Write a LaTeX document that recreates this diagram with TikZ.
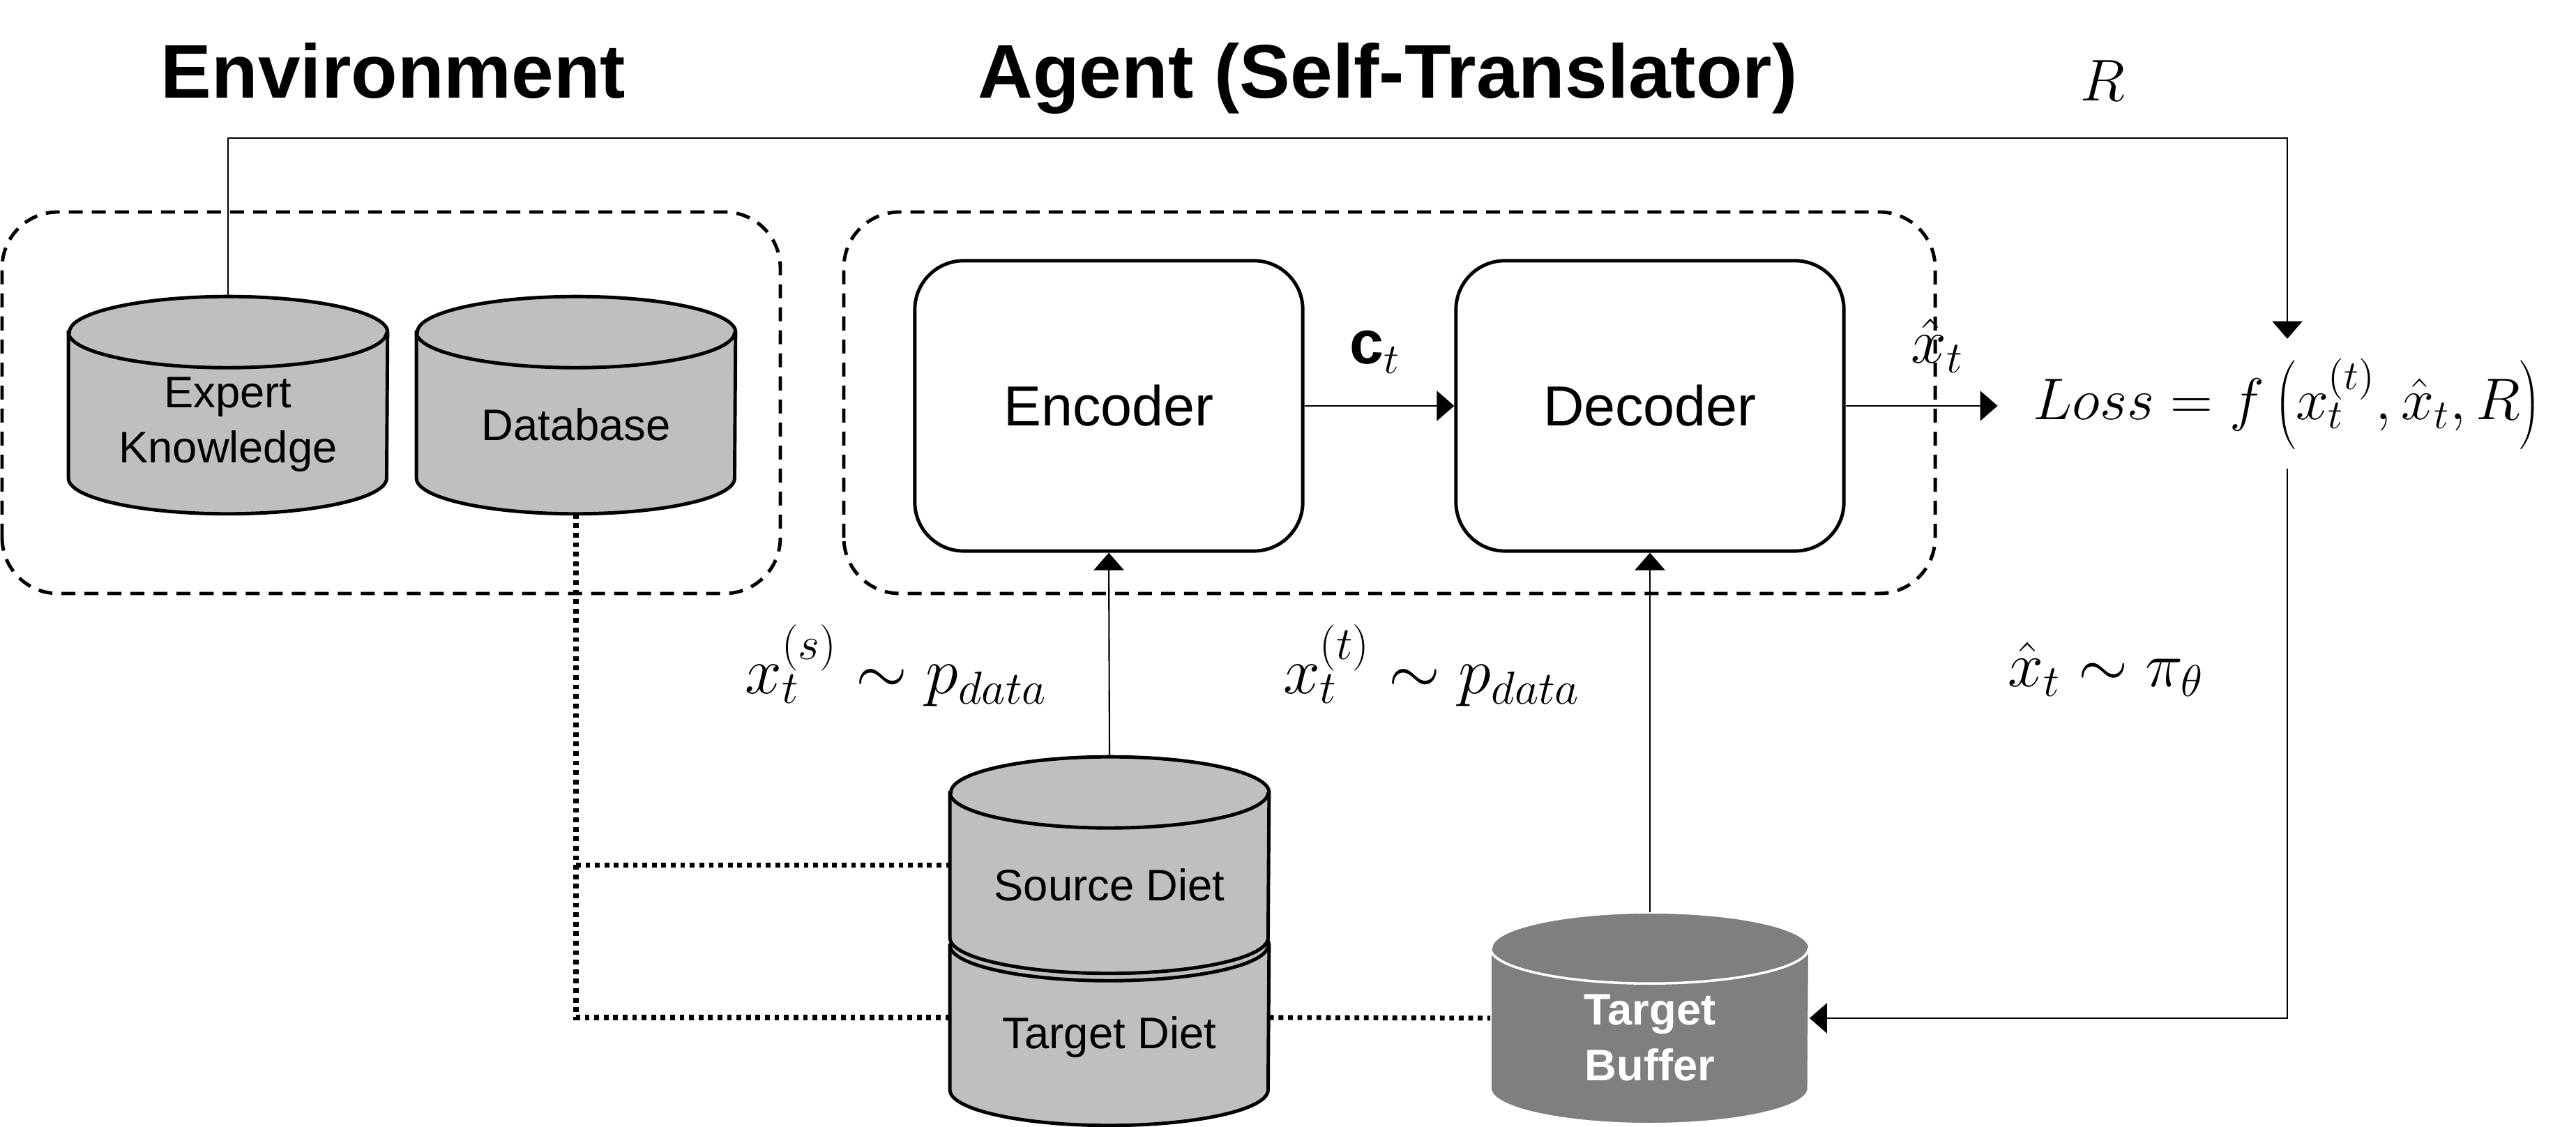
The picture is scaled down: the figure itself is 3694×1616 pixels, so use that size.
\documentclass[tikz,border=0pt]{standalone}
\usepackage{fix-cm}
\usepackage{fontspec}
\setmainfont{Liberation Sans}
\usetikzlibrary{arrows.meta,backgrounds,calc}

\definecolor{drumgray}{RGB}{191,191,191}
\definecolor{buffergray}{RGB}{127,127,127}

% radii of the drum lids
\newcommand{\lidrx}{2.28cm}
\newcommand{\lidry}{0.51cm}

% drum shape drawn round a named node
\newcommand{\drum}[2]{%
  \filldraw[#2]
    ([yshift=-\lidry]#1.north west) -- ([yshift=\lidry]#1.south west)
    arc[start angle=180, end angle=360, x radius=\lidrx, y radius=\lidry]
    -- ([yshift=-\lidry]#1.north east)
    arc[start angle=0, end angle=180, x radius=\lidrx, y radius=\lidry] -- cycle;
  \draw[#2, fill=none] ([yshift=-\lidry]#1.north west)
    arc[start angle=180, end angle=360, x radius=\lidrx, y radius=\lidry];
}

% text of a drum, pushed below the lid
\newcommand{\drumtext}[2]{\parbox[c][#1][c]{4.5cm}{\centering\vspace*{0.56cm}#2}}

\begin{document}
\begin{tikzpicture}[x=0.01cm, y=0.01cm,
    title/.style={font=\fontsize{31}{37}\selectfont\bfseries, inner sep=0pt, anchor=base},
    block/.style={draw, line width=1.4pt, rounded corners=0.7cm, minimum width=5.56cm,
      minimum height=4.16cm, font=\fontsize{23}{27}\selectfont},
    group/.style={draw, line width=1.4pt, dash pattern=on 0.2cm off 0.13cm, rounded corners=0.8cm},
    drum/.style={rectangle, inner sep=0pt, minimum width=4.56cm, font=\fontsize{18}{22.5}\selectfont},
    arr/.style={-{Triangle[length=0.25cm, width=0.43cm]}, line width=0.6pt},
    dotlink/.style={line width=2pt, dash pattern=on 0.068cm off 0.068cm},
    mathlbl/.style={inner sep=0pt, anchor=base},
  ]

% canvas
\useasboundingbox (0,0) rectangle (3694,1616);

% titles
\node[title] (envtitle) at (564,1475) {Environment};
\node[title] (agenttitle) at (1990,1475) {Agent (Self-Translator)};

% dashed groups
\draw[group] (3,765) rectangle (1119,1312);    % environment
\draw[group] (1210,765) rectangle (2775,1312); % agent

% encoder / decoder
\node[block] (encoder) at (1590,1034) {Encoder};
\node[block] (decoder) at (2366,1034) {Decoder};

% drums
\node[drum] (expert) at (327,1035) {\drumtext{3.10cm}{Expert\\Knowledge}};
\node[drum] (database) at (826,1035) {\drumtext{3.10cm}{Database}};
\node[drum] (target) at (1591,157) {\drumtext{3.08cm}{Target Diet}};
\node[drum] (source) at (1591,375.5) {\drumtext{3.09cm}{Source Diet}};
\node[drum, font=\fontsize{18}{22.8}\selectfont\bfseries, text=white] (buffer) at (2366,156)
  {\drumtext{3.02cm}{Target\\Buffer}};

% loss
\node[inner xsep=0.48cm, inner ysep=0pt, text width=7.33cm, align=center, minimum height=1.85cm,
  font=\fontsize{24}{28}\selectfont] (loss) at (3280,1037) {$Loss = f\left(x_t^{(t)}, \hat{x}_t, R\right)$};

% math labels
\node[mathlbl, font=\fontsize{25}{30}\selectfont] (ctlbl) at (1972,1094) {$\mathbf{c}_t$};
\node[mathlbl, font=\fontsize{26}{31}\selectfont] (xhatlbl) at (2778,1095) {$\hat{x}_t$};
\node[mathlbl, font=\fontsize{24}{29}\selectfont] (rlbl) at (3015,1471) {$R$};
\node[mathlbl, font=\fontsize{27}{32}\selectfont] (srclbl) at (1285,621) {$x_t^{(s)} \sim p_{data}$};
\node[mathlbl, font=\fontsize{27}{32}\selectfont] (tgtlbl) at (2053,621) {$x_t^{(t)} \sim p_{data}$};
\node[mathlbl, font=\fontsize{26}{31}\selectfont] (pilbl) at (3020,631) {$\hat{x}_t \sim \pi_\theta$};

% connectors
\coordinate (rtop) at (3280,1418);
\draw[arr] (expert.north) |- (rtop) -- (loss.north);
\draw[arr] (encoder) -- (decoder);
\draw[arr] (decoder.east) -- (decoder.east -| loss.west);
\draw[arr] (loss.south) |- (buffer.east);
\draw[arr] (source.north) -- (encoder.south);
\draw[arr] (buffer.north) -- (decoder.south);

% dotted data links
\draw[dotlink] (database.south) |- (target.west);
\draw[dotlink] (database.south |- source.west) -- (source.west);
\draw[dotlink] (target.east) -- (buffer.west);

% drum bodies behind the texts
\begin{scope}[on background layer]
  \foreach \n in {expert,database,target,source}
    \drum{\n}{fill=drumgray, draw=black, line width=1.4pt};
  \drum{buffer}{fill=buffergray, draw=white, line width=1pt};
\end{scope}
\end{tikzpicture}
\end{document}
